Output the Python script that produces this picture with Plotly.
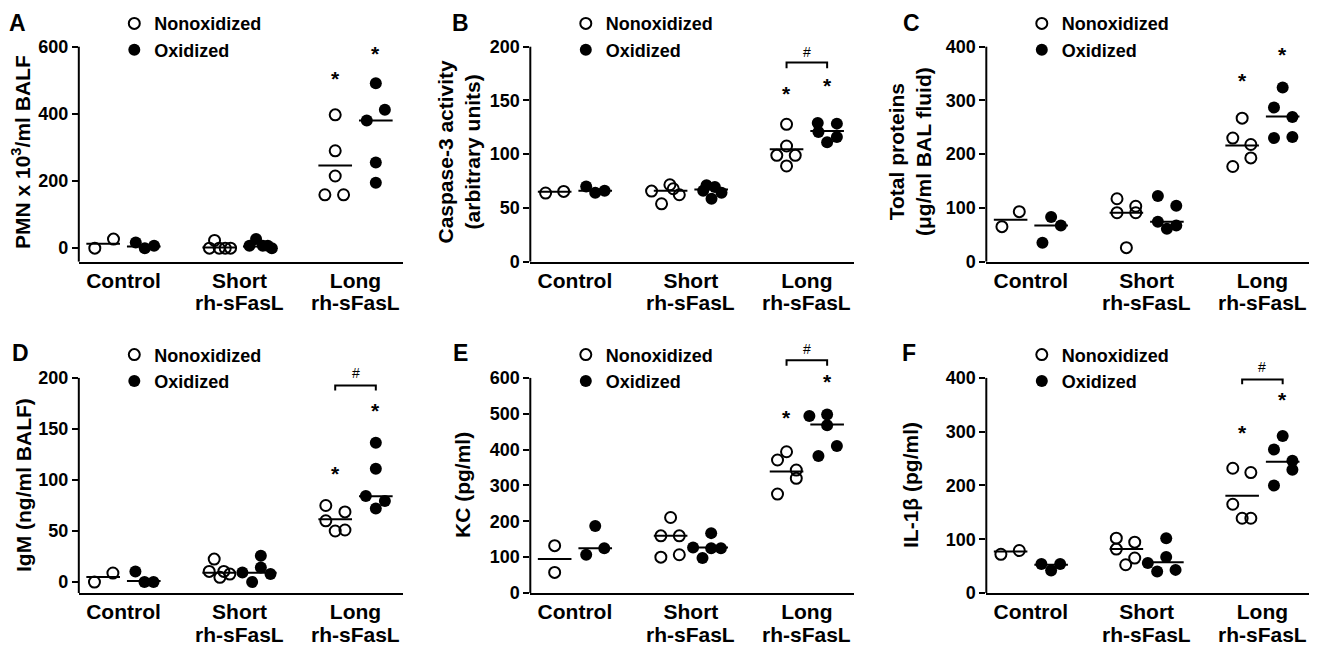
import plotly.graph_objects as go

W, H = 1325, 648
OFF = 8  # the page body margin that shifts the figure in the browser
FONT = "Liberation Sans, Arial, Helvetica, sans-serif"

categories = ["Control", "Short", "Long"]
category_sub = ["", "rh-sFasL", "rh-sFasL"]
series_names = ["Nonoxidized", "Oxidized"]

# ---------------- Panel A: PMN ----------------
A_non = [[0, 27], [0, 23, 0, 0, 0], [159, 159, 215, 290, 397]]
A_non_dx = [[-0.072, 0.089], [-0.084, -0.04, 0.0, 0.052, 0.098], [-0.089, 0.072, 0, 0, 0]]
A_ox = [[17, 0, 7], [7, 27, 7, 7, 0], [195, 255, 380, 412, 491]]
A_ox_dx = [[-0.069, 0.009, 0.089], [-0.089, -0.032, 0.026, 0.069, 0.104], [0, 0, -0.078, 0.078, 0]]
A_non_line = [13, 2, 246]
A_ox_line = [5, 5, 380]
A_stars = [506, 580]
A_ticks = [0, 200, 400, 600]

# ---------------- Panel B: Caspase-3 ----------------
B_non = [[63.8, 65.3], [65.6, 53.8, 71.5, 67.8, 62.2], [127.8, 107.6, 98.9, 98.9, 89.0]]
B_non_dx = [[-0.078, 0.078], [-0.164, -0.078, -0.006, 0.023, 0.075], [0, 0, -0.084, 0.075, 0]]
B_ox = [[70, 64, 66], [71, 69.4, 66, 64, 58.5], [129, 128.4, 120.7, 116, 111]]
B_ox_dx = [[-0.078, 0, 0.081], [-0.04, 0.032, -0.069, 0.089, 0.003], [-0.081, 0.084, -0.075, 0.084, 0]]
B_non_line = [65, 66, 104.5]
B_ox_line = [66, 67, 121.6]
B_stars = [156, 164]
B_bracket = [180, 185.4]
B_hash = 195
B_ticks = [0, 50, 100, 150, 200]

# ---------------- Panel C: Total proteins ----------------
C_non = [[65, 93], [117, 103, 91, 91, 26], [267, 230, 218, 193, 177]]
C_non_dx = [[-0.075, 0.075], [-0.081, 0.081, -0.081, 0.081, 0], [0, -0.081, 0.075, 0.075, -0.081]]
C_ox = [[35, 83, 67], [122, 104, 74, 61, 67], [324, 287, 269, 230, 232]]
C_ox_dx = [[-0.075, 0, 0.084], [-0.078, 0.081, -0.078, 0, 0.081], [0, -0.075, 0.084, -0.075, 0.084]]
C_non_line = [78, 91, 216]
C_ox_line = [67, 74, 270]
C_stars = [338, 385]
C_ticks = [0, 100, 200, 300, 400]

# ---------------- Panel D: IgM ----------------
D_non = [[0, 8.8], [22.5, 10.4, 4.6, 10.4, 7.8], [75, 68.7, 60, 50, 51]]
D_non_dx = [[-0.075, 0.084], [-0.043, -0.086, 0.006, 0.04, 0.092], [-0.081, 0.084, -0.081, 0, 0.084]]
D_ox = [[10.4, 0, 0], [9.4, 0, 25.7, 14.3, 7.8], [136.5, 111, 84.4, 79.5, 72]]
D_ox_dx = [[-0.072, 0.006, 0.084], [-0.15, -0.066, 0.009, 0.009, 0.092], [0, 0, -0.086, 0.078, 0]]
D_non_line = [5, 9, 61.5]
D_ox_line = [1, 9, 84]
D_stars = [106.5, 168]
D_bracket = [187.6, 192.5]
D_hash = 205
D_ticks = [0, 50, 100, 150, 200]

# ---------------- Panel E: KC ----------------
E_non = [[132, 57.5], [210.6, 159.5, 159.5, 100, 106.7], [394, 371, 343, 320, 276]]
E_non_dx = [[0, 0], [0, -0.084, 0.075, -0.084, 0.075], [0, -0.078, 0.084, 0.084, -0.078]]
E_ox = [[107, 187, 125], [167, 127, 97.4, 125, 125], [494, 498, 468, 410, 382]]
E_ox_dx = [[-0.078, 0, 0.078], [0, -0.156, -0.075, 0, 0.084], [-0.153, 0, 0, 0.084, -0.075]]
E_non_line = [94.6, 159.5, 338.6]
E_ox_line = [125, 127, 470]
E_stars = [489, 591]
E_bracket = [634, 649]
E_hash = 682
E_ticks = [0, 100, 200, 300, 400, 500, 600]

# ---------------- Panel F: IL-1beta ----------------
F_non = [[72, 79], [102, 94.6, 81.6, 65, 52.5], [232, 224, 165, 139, 139]]
F_non_dx = [[-0.084, 0.075], [-0.087, 0.072, -0.087, 0.072, -0.006], [-0.081, 0.075, -0.081, 0, 0.075]]
F_ox = [[54, 42, 54], [102, 66.8, 55.6, 40, 43], [292, 267, 246, 229, 200]]
F_ox_dx = [[-0.084, 0, 0.078], [-0.006, -0.006, -0.165, -0.084, 0.075], [0, -0.075, 0.084, 0.084, -0.075]]
F_non_line = [77, 81.6, 181]
F_ox_line = [52.5, 57, 244]
F_stars = [298, 360]
F_bracket = [388, 397]
F_hash = 420
F_ticks = [0, 100, 200, 300, 400]

panel_letters = ["A", "B", "C", "D", "E", "F"]
y_titles = [
    "PMN x 10<sup>3</sup>/ml BALF",
    "Caspase-3 activity<br>(arbitrary units)",
    "Total proteins<br>(μg/ml BAL fluid)",
    "IgM (ng/ml BALF)",
    "KC (pg/ml)",
    "IL-1β (pg/ml)",
]

panels = [
    dict(non=A_non, non_dx=A_non_dx, ox=A_ox, ox_dx=A_ox_dx, non_line=A_non_line, ox_line=A_ox_line,
         stars=A_stars, bracket=None, hash=None, ticks=A_ticks, ymin=-40),
    dict(non=B_non, non_dx=B_non_dx, ox=B_ox, ox_dx=B_ox_dx, non_line=B_non_line, ox_line=B_ox_line,
         stars=B_stars, bracket=B_bracket, hash=B_hash, ticks=B_ticks, ymin=0),
    dict(non=C_non, non_dx=C_non_dx, ox=C_ox, ox_dx=C_ox_dx, non_line=C_non_line, ox_line=C_ox_line,
         stars=C_stars, bracket=None, hash=None, ticks=C_ticks, ymin=0),
    dict(non=D_non, non_dx=D_non_dx, ox=D_ox, ox_dx=D_ox_dx, non_line=D_non_line, ox_line=D_ox_line,
         stars=D_stars, bracket=D_bracket, hash=D_hash, ticks=D_ticks, ymin=-10.75),
    dict(non=E_non, non_dx=E_non_dx, ox=E_ox, ox_dx=E_ox_dx, non_line=E_non_line, ox_line=E_ox_line,
         stars=E_stars, bracket=E_bracket, hash=E_hash, ticks=E_ticks, ymin=0),
    dict(non=F_non, non_dx=F_non_dx, ox=F_ox, ox_dx=F_ox_dx, non_line=F_non_line, ox_line=F_ox_line,
         stars=F_stars, bracket=F_bracket, hash=F_hash, ticks=F_ticks, ymin=0),
]

# ---------------- layout geometry (page pixels) ----------------
col_left = [78.8, 530.3, 986.3]
col_right = [402.5, 853.8, 1309.3]
row_top_tick = [46.7, 377.9]
row_axis = [261.6, 593.0]
title_x = [21, 458.5, 910, 23, 462, 910]
title_y = [152, 485]
letter_x = [17.5, 460, 911.7, 20, 460, 909]
letter_y = [22.5, 352.5]


def fx(px):
    return (px - OFF) / W


def fy(py):
    return 1 - (py - OFF) / H


GOFF = 0.175   # group offset from category centre
HALF = 0.145   # half width of the central line
XR = [-0.385, 2.405]
HEAD = 36      # px of plot area above the top tick

fig = go.Figure()
layout = {}
annotations = []
shapes = []

for i, p in enumerate(panels):
    r, c = divmod(i, 3)
    n = i + 1
    xa = "x" if n == 1 else f"x{n}"
    ya = "y" if n == 1 else f"y{n}"
    lg = "legend" if n == 1 else f"legend{n}"
    ty, by = row_top_tick[r], row_axis[r]
    tv, bv = p["ticks"][-1], p["ymin"]
    k = (by - ty) / (tv - bv)
    r1 = tv + HEAD / k

    groups = [
        (p["non"], p["non_dx"], series_names[0],
         dict(symbol="circle", size=11, color="rgba(0,0,0,0)", line=dict(color="black", width=2))),
        (p["ox"], p["ox_dx"], series_names[1],
         dict(symbol="circle", size=12, color="black", line=dict(width=0))),
    ]
    for g, (vals, dxs, name, mk) in enumerate(groups):
        off = -GOFF if g == 0 else GOFF
        xs, ys = [], []
        for ci, (vv, dd) in enumerate(zip(vals, dxs)):
            for v, d in zip(vv, dd):
                xs.append(ci + off + d)
                ys.append(v)
        fig.add_trace(go.Scatter(x=xs, y=ys, mode="markers", marker=mk, name=name,
                                 legend=lg, showlegend=True, cliponaxis=False,
                                 xaxis=xa, yaxis=ya))
    for g, lines in enumerate([p["non_line"], p["ox_line"]]):
        off = -GOFF if g == 0 else GOFF
        xs, ys = [], []
        for ci, v in enumerate(lines):
            xs += [ci + off - HALF, ci + off + HALF, None]
            ys += [v, v, None]
        fig.add_trace(go.Scatter(x=xs, y=ys, mode="lines", line=dict(color="black", width=2),
                                 showlegend=False, hoverinfo="skip", xaxis=xa, yaxis=ya))
    if p["bracket"]:
        lo, hi = p["bracket"]
        fig.add_trace(go.Scatter(x=[2 - GOFF, 2 - GOFF, 2 + GOFF, 2 + GOFF], y=[lo, hi, hi, lo],
                                 mode="lines", line=dict(color="black", width=2),
                                 showlegend=False, hoverinfo="skip", xaxis=xa, yaxis=ya))
        annotations.append(dict(x=2, y=p["hash"], xref=xa, yref=ya, text="#", showarrow=False,
                                font=dict(family=FONT, size=14, color="black"),
                                xanchor="center", yanchor="middle"))
    for g, s in enumerate(p["stars"]):
        off = -GOFF if g == 0 else GOFF
        annotations.append(dict(x=2 + off, y=s, xref=xa, yref=ya, text="*", showarrow=False,
                                font=dict(family=FONT, size=21, color="black", weight="bold"),
                                xanchor="center", yanchor="middle"))
    # second line of the category labels
    for ci, sub in enumerate(category_sub):
        if sub:
            annotations.append(dict(x=ci, y=fy(by + 41.3), xref=xa, yref="paper", text=sub,
                                    showarrow=False, xanchor="center", yanchor="middle",
                                    font=dict(family=FONT, size=21, color="black", weight="bold")))

    xkey = "xaxis" if n == 1 else f"xaxis{n}"
    ykey = "yaxis" if n == 1 else f"yaxis{n}"
    layout[xkey] = dict(domain=[fx(col_left[c]), fx(col_right[c])], range=XR, anchor=ya,
                        showline=True, linewidth=2, linecolor="black", ticks="",
                        tickvals=[0, 1, 2], ticktext=categories, ticklabelstandoff=-1,
                        tickfont=dict(family=FONT, size=21, color="black", weight="bold"),
                        showgrid=False, zeroline=False, fixedrange=True, automargin=False)
    layout[ykey] = dict(domain=[fy(by), min(1.0, fy(ty - HEAD))], range=[bv, r1], anchor=xa,
                        showline=False, ticks="outside", ticklen=6, tickwidth=2, tickcolor="black",
                        tickvals=p["ticks"],
                        tickfont=dict(family=FONT, size=18, color="black", weight="bold"),
                        showgrid=False, zeroline=False, fixedrange=True, automargin=False)
    shapes.append(dict(type="line", xref=f"{xa} domain", yref=f"{ya} domain",
                       x0=0, x1=0, y0=0, y1=(tv - bv) / (r1 - bv),
                       line=dict(color="black", width=2)))
    layout[lg] = dict(x=fx(col_left[c] + 35.5), y=fy(ty - 41.5),
                      xanchor="left", yanchor="top", bgcolor="rgba(0,0,0,0)",
                      borderwidth=0, tracegroupgap=0, itemwidth=30,
                      font=dict(family=FONT, size=18, color="black", weight="bold"))
    annotations.append(dict(x=fx(title_x[i]), y=fy(title_y[r]), xref="paper", yref="paper",
                            text=y_titles[i], textangle=-90, showarrow=False,
                            font=dict(family=FONT, size=21, color="black", weight="bold"),
                            xanchor="center", yanchor="middle"))
    annotations.append(dict(x=fx(letter_x[i]), y=fy(letter_y[r]), xref="paper", yref="paper",
                            text=panel_letters[i], showarrow=False,
                            font=dict(family=FONT, size=23, color="black", weight="bold"),
                            xanchor="center", yanchor="middle"))

fig.update_layout(
    width=W, height=H,
    margin=dict(l=0, r=0, t=0, b=0, autoexpand=False),
    paper_bgcolor="white", plot_bgcolor="white",
    annotations=annotations, shapes=shapes,
    **layout,
)

fig.write_html("out.html")
